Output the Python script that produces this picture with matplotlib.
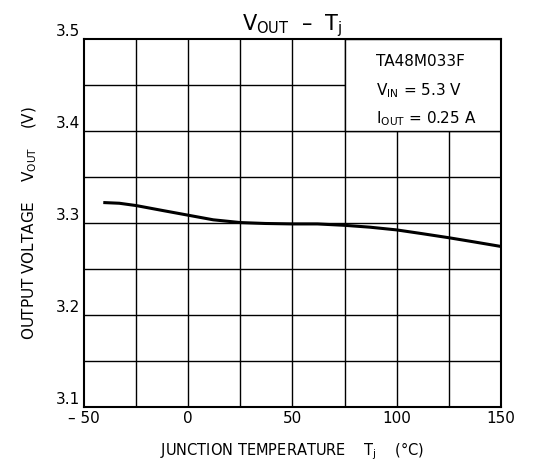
import matplotlib
matplotlib.use("Agg")
import matplotlib.pyplot as plt
from matplotlib.patches import Rectangle

plt.rcParams['font.family'] = ['DejaVu Sans']
plt.rcParams['mathtext.fontset'] = 'custom'
plt.rcParams['mathtext.rm'] = 'DejaVu Sans'

# данные
tj = [-40, -33, -25, -12, 0, 12, 25, 37, 50, 62, 75, 87, 100, 112, 125, 137, 150]
vout = [3.3222, 3.3215, 3.3190, 3.3135, 3.3085, 3.3035, 3.3005, 3.2995, 3.2990,
        3.2990, 3.2975, 3.2955, 3.2925, 3.2885, 3.2840, 3.2795, 3.2745]

x_ticks = [-50, 0, 50, 100, 150]
x_labels = ['– 50', '0', '50', '100', '150']
y_ticks = [3.1, 3.2, 3.3, 3.4, 3.5]
y_labels = ['3.1', '3.2', '3.3', '3.4', '3.5']

fig = plt.figure(figsize=(5.56, 4.72), dpi=100)
ax = fig.add_axes([0.151, 0.138, 0.750, 0.779])

ax.set_xlim(-50, 150)
ax.set_ylim(3.1, 3.5)

# сетка
for gx in range(-25, 150, 25):
    ax.axvline(gx, color='black', linewidth=1.0, zorder=1)
for gy in [3.15, 3.2, 3.25, 3.3, 3.35, 3.4, 3.45]:
    ax.axhline(gy, color='black', linewidth=1.0, zorder=1)

# рамка с условиями
ax.add_patch(Rectangle((75, 3.4), 75, 0.1, facecolor='white', edgecolor='black',
                       linewidth=1.0, zorder=2))
ax.text(0.7, 0.96, 'TA48M033F', transform=ax.transAxes, fontsize=11,
        va='top', ha='left', zorder=3)
ax.text(0.7, 0.885, r'V$_{\mathrm{IN}}$ = 5.3 V', transform=ax.transAxes,
        fontsize=11, va='top', ha='left', zorder=3)
ax.text(0.7, 0.81, r'I$_{\mathrm{OUT}}$ = 0.25 A', transform=ax.transAxes,
        fontsize=11, va='top', ha='left', zorder=3)

ax.plot(tj, vout, color='black', linewidth=2.2, zorder=4)

ax.set_xticks(x_ticks)
ax.set_xticklabels(x_labels, fontsize=11)
ax.set_yticks(y_ticks)
ax.set_yticklabels(y_labels, fontsize=11)
ax.tick_params(length=0, pad=3)
for lbl in ax.get_yticklabels():
    lbl.set_verticalalignment('bottom')

for s in ax.spines.values():
    s.set_linewidth(1.5)

ax.set_title(r'V$_{\mathrm{OUT}}$  –  T$_{\mathrm{j}}$', fontsize=15, pad=6)
ax.set_xlabel(r'JUNCTION TEMPERATURE    T$_{\mathrm{j}}$    (°C)', fontsize=10.5, labelpad=10)
ax.set_ylabel(r'OUTPUT VOLTAGE    V$_{\mathrm{OUT}}$    (V)', fontsize=11, labelpad=12)

fig.savefig('out.png', dpi=100, facecolor='white')
